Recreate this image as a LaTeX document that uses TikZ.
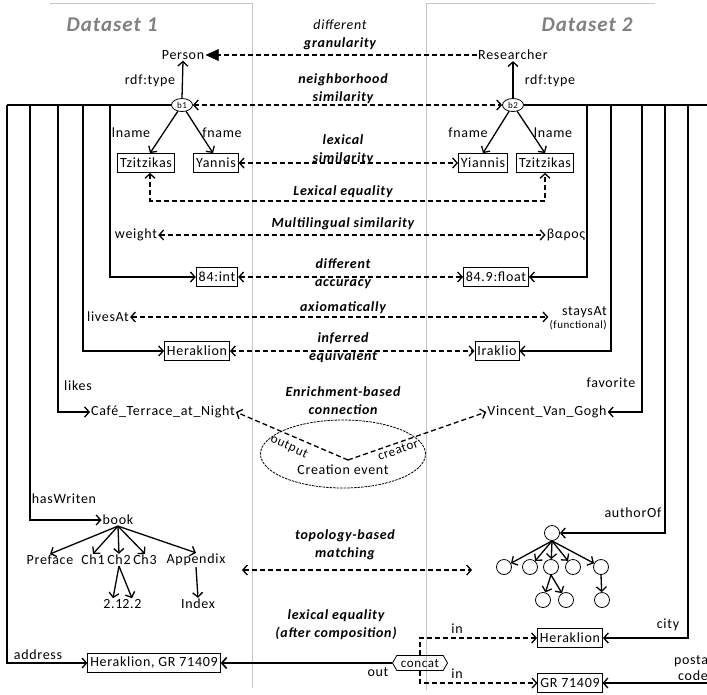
\documentclass[tikz,border=0pt]{standalone}
\usepackage{fontspec}
\setmainfont{Carlito}[LetterSpace=5]
\usetikzlibrary{arrows.meta,shapes.geometric,shapes.symbols}
\begin{document}
\begin{tikzpicture}[x=1pt,y=-1pt,
 every node/.style={font=\fontsize{14}{16}\selectfont, inner sep=1pt},
 box/.style={draw, line width=0.8pt, inner sep=2.5pt, minimum height=19pt},
 conn/.style={line width=1.3pt, -{Straight Barb[length=4.5pt,width=10pt]}},
 plain/.style={line width=1.3pt},
 match/.style={line width=1.3pt, dash pattern=on 5pt off 3pt},
 both/.style={{Straight Barb[length=4.5pt,width=10pt]}-{Straight Barb[length=4.5pt,width=10pt]}},
 mlab/.style={font=\fontsize{14}{18}\selectfont\bfseries\itshape, align=center},
 frame/.style={draw=black!22, line width=0.8pt},
 dslab/.style={font=\fontsize{21}{24}\selectfont\bfseries\itshape, text=black!50},
 blank/.style={draw, ellipse, line width=0.8pt, minimum width=21pt, minimum height=13pt, inner sep=0pt, font=\fontsize{9}{10}\selectfont},
 circ/.style={draw, circle, line width=0.8pt, minimum size=15pt, inner sep=0pt}
]
\useasboundingbox (0,0) rectangle (707,694);
% frames
\draw[frame] (50,3) -- (252,3) -- (252,688);
\draw[frame] (655,3) -- (426,3) -- (426,690);
\node[dslab] (ds1) at (112,25) {Dataset 1};
\node[dslab] (ds2) at (587,25) {Dataset 2};

% top nodes
\node (person) at (183,55) {Person};
\node (res) at (513,55) {Researcher};
\node[blank] (b1) at (182,105) {b1};
\node[blank] (b2) at (513,105) {b2};
\draw[conn] (b1.north) -- (person.south);
\draw[conn] (b2.north) -- (res.south);
\node (rt1) at (150,81) {rdf:type};
\node (rt2) at (550,81) {rdf:type};

% names
\node[box] (tz1) at (146,163) {Tzitzikas};
\node[box] (ya) at (216,163) {Yannis};
\node[box] (yi) at (483,163) {Yiannis};
\node[box] (tz2) at (545,163) {Tzitzikas};
\draw[conn] (b1) -- ([xshift=4pt]tz1.north);
\draw[conn] (b1) -- ([xshift=-3pt]ya.north);
\draw[conn] (b2) -- (yi.north);
\draw[conn] (b2) -- (tz2.north);
\node (ln1) at (131,133) {lname};
\node (fn1) at (222,133) {fname};
\node (fn2) at (468,133) {fname};
\node (ln2) at (553,133) {lname};

% bus lines
\coordinate (jL1) at (7,105);
\coordinate (jL2) at (30,105);
\coordinate (jL3) at (58,105);
\coordinate (jL4) at (83,105);
\coordinate (jL5) at (110,105);
\coordinate (jR1) at (587,105);
\coordinate (jR2) at (611,105);
\coordinate (jR3) at (642,105);
\coordinate (jR4) at (665,105);
\coordinate (jR5) at (688,105);
\coordinate (jR6) at (712,105);
\draw[plain] (b1.west) -- (jL1);
\draw[plain] (b2.east) -- (jR6);

% value nodes
\node[box] (int) at (217,277) {84:int};
\node[box] (flt) at (496,277) {84.9:float};
\node[box] (hk1) at (197,351) {Heraklion};
\node[box] (ira) at (497,351) {Iraklio};
\node (cafe) at (163,412) {Café\_Terrace\_at\_Night};
\node (vvg) at (547,412) {Vincent\_Van\_Gogh};
\node (weight) at (136,235) {weight};
\node (baros) at (566,235) {βαρος};
\node (lives) at (108,317) {livesAt};
\node[align=right, anchor=east] (stays) at (608,318) {staysAt\\[-3pt]{\fontsize{11}{12}\selectfont(functional)}};
\node (likes) at (78,386) {likes};
\node (fav) at (611,383) {favorite};
\node (hasw) at (64,499) {hasWriten};
\node (auth) at (633,513) {authorOf};
\node (addrl) at (38,655) {address};
\node (city) at (668,625) {city};
\node[align=center] (postal) at (693,668) {postal\\code};

\draw[conn] (jL5) |- (int.west);
\draw[conn] (jL4) |- (hk1.west);
\draw[conn] (jL3) |- (cafe.west);
\draw[conn] (jR1) |- (flt.east);
\draw[conn] (jR2) |- (ira.east);
\draw[conn] (jR3) |- (vvg.east);

% book tree
\node (book) at (118,520) {book};
\node (pref) at (50,560) {Preface};
\node (ch1) at (93,560) {Ch1};
\node (ch2) at (119,560) {Ch2};
\node (ch3) at (145,560) {Ch3};
\node (app) at (196,560) {Appendix};
\node (s21) at (113,604) {2.1};
\node (s22) at (132,604) {2.2};
\node (idx) at (198,604) {Index};
\draw[conn] (book.south) -- (pref.north);
\draw[conn] (book.south) -- (ch1.north);
\draw[conn] (book.south) -- (ch2.north);
\draw[conn] (book.south) -- (ch3.north);
\draw[conn] (book.south) -- (app.north);
\draw[conn] (ch2.south) -- (s21.north);
\draw[conn] (ch2.south) -- (s22.north);
\draw[conn] (app.south) -- (idx.north);
\draw[conn] (jL2) |- (book.west);

% circle tree
\node[circ] (t0) at (552,533) {};
\node[circ] (t1) at (504,567) {};
\node[circ] (t2) at (530,567) {};
\node[circ] (t3) at (551,567) {};
\node[circ] (t4) at (573,567) {};
\node[circ] (t5) at (601,567) {};
\node[circ] (t6) at (543,600) {};
\node[circ] (t7) at (566,600) {};
\node[circ] (t8) at (602,600) {};
\foreach \c in {t1,t2,t3,t4,t5} \draw[conn] (t0.south) -- (\c);
\draw[conn] (t3.south) -- (t6);
\draw[conn] (t3.south) -- (t7);
\draw[conn] (t5.south) -- (t8);
\draw[conn] (jR4) |- (t0.east);

% address composition
\node[box] (addr) at (154,663) {Heraklion, GR 71409};
\node[box] (hk2) at (570,638) {Heraklion};
\node[box] (gr) at (570,683) {GR 71409};
\node[draw, signal, signal to=west and east, signal pointer angle=120, line width=0.8pt, inner sep=1.5pt, minimum width=55pt, minimum height=15pt, font=\fontsize{13}{14}\selectfont] (concat) at (420,663) {concat};
\draw[conn] (jL1) |- (addr.west);
\draw[conn] (jR5) |- (hk2.east);
\draw[conn] (jR6) |- (gr.east);
\draw[line width=1.6pt, -{Straight Barb[length=5pt,width=11pt]}] (concat.west) -- (addr.east);
\draw[match, -{Straight Barb[length=4.5pt,width=10pt]}] (concat.north) |- (hk2.west);
\draw[match, -{Straight Barb[length=4.5pt,width=10pt]}] (concat.south) |- (gr.west);
\node (in1) at (457,629) {in};
\node (in2) at (457,674) {in};
\node (outl) at (378,672) {out};

% matchings
\draw[match] (res.west) -- ([xshift=10pt]person.east);
\draw[fill=black, line width=0.6pt] ([xshift=1pt]person.east) -- ++(12,-5.5) -- ++(0,11) -- cycle;
\draw[match, both] (b1.east) -- (b2.west);
\draw[match, both] (ya.east) -- (yi.west);
\draw[match, both] ([xshift=4pt]tz1.south) -- ++(0,28) -| (tz2.south);
\draw[match, both] (weight.east) -- (baros.west);
\draw[match, both] (int.east) -- (flt.west);
\draw[match, both] (lives.east) -- (stays.west |- lives.east);
\draw[match, both] (hk1.east) -- (ira.west);
\coordinate (topL) at (242,570);
\coordinate (topR) at (472,570);
\draw[match, both] (topL) -- (topR);

% creation event
\node[draw, ellipse, line width=0.8pt, dash pattern=on 2.5pt off 1pt, minimum width=165pt, minimum height=68pt] (ev) at (343,454) {};
\node (evt) at (343,470) {Creation event};
\coordinate (hub) at (348,460);
\draw[match, -{Straight Barb[length=4.5pt,width=10pt]}] (hub) -- (cafe.east);
\draw[match, -{Straight Barb[length=4.5pt,width=10pt]}] (hub) -- (vvg.west);
\node[rotate=-25, font=\fontsize{13}{14}\selectfont] (outp) at (289,447) {output};
\node[rotate=20, font=\fontsize{13}{14}\selectfont] (creat) at (398,450) {creator};

% matching labels
\node[mlab] (m1) at (340,35) {{\mdseries different}\\granularity};
\node[mlab] (m2) at (343,89) {neighborhood\\similarity};
\node[mlab] (m3) at (343,150) {lexical\\similarity};
\node[mlab] (m4) at (343,192) {Lexical equality};
\node[mlab] (m5) at (343,224) {Multilingual similarity};
\node[mlab] (m6) at (343,274) {different\\accuracy};
\node[mlab] (m7) at (343,308) {axiomatically};
\node[mlab] (m8) at (343,348) {inferred\\equivalent};
\node[mlab] (m9) at (343,401) {Enrichment-based\\connection};
\node[mlab] (m10) at (345,545) {topology-based\\matching};
\node[mlab] (m11) at (336,625) {lexical equality\\(after composition)};
\end{tikzpicture}
\end{document}
